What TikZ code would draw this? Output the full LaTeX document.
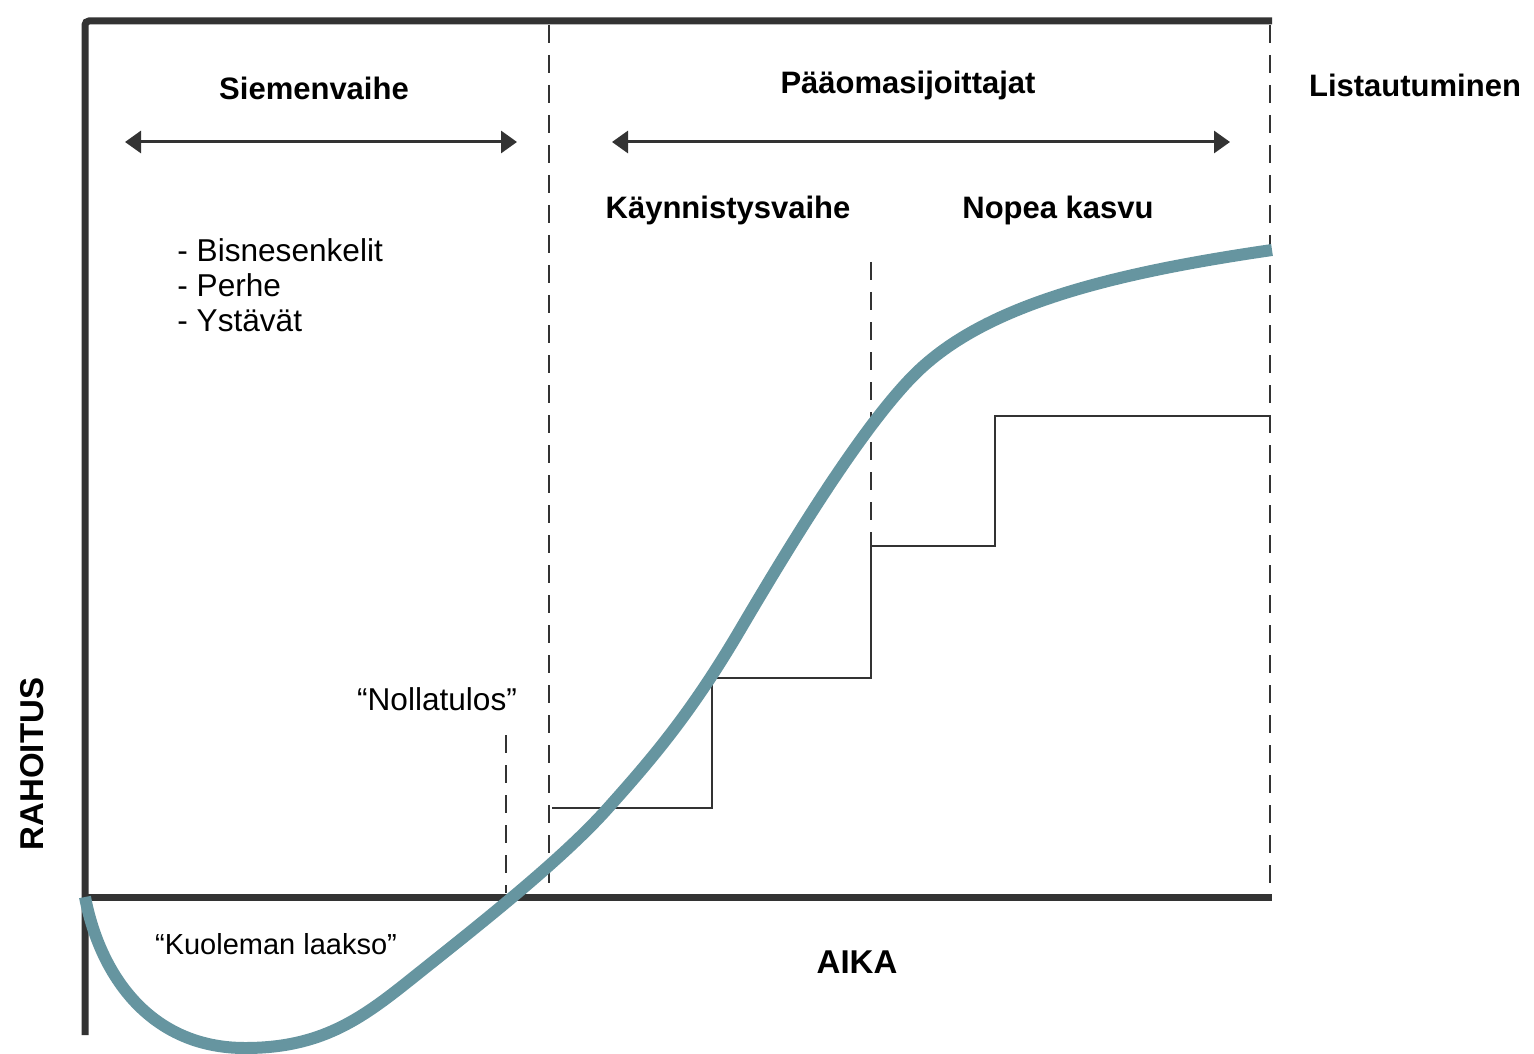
\documentclass[tikz,border=0pt]{standalone}
\usepackage{fontspec}
\setmainfont{Liberation Sans}
\usetikzlibrary{arrows.meta}

\definecolor{axisgray}{HTML}{333333}
\definecolor{curveteal}{HTML}{6695A0}

\begin{document}
\begin{tikzpicture}[x=0.5pt, y=-0.5pt,
    lbl/.style={font=\fontsize{15.8}{17.5}\selectfont, inner sep=0pt},
    hdr/.style={font=\fontsize{15.5}{18}\selectfont\bfseries, inner sep=0pt},
    axislbl/.style={font=\fontsize{16.5}{18}\selectfont\bfseries, inner sep=0pt},
    frame/.style={line width=3.5pt, draw=axisgray},
    guide/.style={line width=1pt, draw=axisgray, dash pattern=on 9pt off 6pt},
    span/.style={line width=1.5pt, draw=axisgray, {Triangle[width=11pt,length=8pt]}-{Triangle[width=11pt,length=8pt]}},
    stair/.style={line width=1.2pt, draw=axisgray},
    growth/.style={line width=6pt, draw=curveteal}]
    \useasboundingbox (0,0) rectangle (1534,1053);

    % Frame and axes
    \coordinate (topR) at (1272,21);
    \coordinate (origin) at (85,897);
    \coordinate (axisR) at (1272,897);
    \draw[frame, rounded corners=2pt] (topR) -- (85,21) -- (85,1035);
    \draw[frame] (origin) -- (axisR);

    % Phase boundaries
    \draw[guide] (549,25) -- (549,893);
    \draw[guide] (1270,25) -- (1270,893);
    \draw[guide] (871,262) -- (871,546);
    \draw[guide] (506,735) -- (506,893);

    % Headings
    \node[hdr] (seed) at (314,88) {Siemenvaihe};
    \node[hdr] (vc) at (908,85) {Pääomasijoittajat};
    \node[hdr] (ipo) at (1415,85) {Listautuminen};
    \node[hdr] (launch) at (728,210) {Käynnistysvaihe};
    \node[hdr] (fast) at (1058,210) {Nopea kasvu};

    % Spans
    \coordinate (seedL) at (125,142);
    \coordinate (seedR) at (517,142);
    \coordinate (vcL) at (612,142);
    \coordinate (vcR) at (1230,142);
    \draw[span] (seedL) -- (seedR);
    \draw[span] (vcL) -- (vcR);

    % Seed sources
    \node[lbl, align=left, anchor=west] (sources) at (177,285) {- Bisnesenkelit\\- Perhe\\- Ystävät};

    % Funding rounds
    \draw[stair] (552,808) -- (712,808) -- (712,678) -- (871,678) -- (871,546)
        -- (995,546) -- (995,416) -- (1270,416);

    % Curve
    \draw[growth] (origin) .. controls (100,975) and (150,1048) .. (245,1048)
        .. controls (320,1048) and (360,1020) .. (410,980)
        .. controls (470,932) and (560,862) .. (608,808)
        .. controls (650,761) and (690,715) .. (740,630)
        .. controls (790,545) and (860,430) .. (913,376)
        .. controls (980,308) and (1100,275) .. (1272,250);

    % Labels
    \node[lbl] (breakeven) at (437,699) {“Nollatulos”};
    \node[lbl, font=\fontsize{14.5}{17}\selectfont] (valley) at (276,944) {“Kuoleman laakso”};
    \node[axislbl] (time) at (857,962) {AIKA};
    \node[axislbl, rotate=90] (funding) at (32,764) {RAHOITUS};
\end{tikzpicture}
\end{document}
